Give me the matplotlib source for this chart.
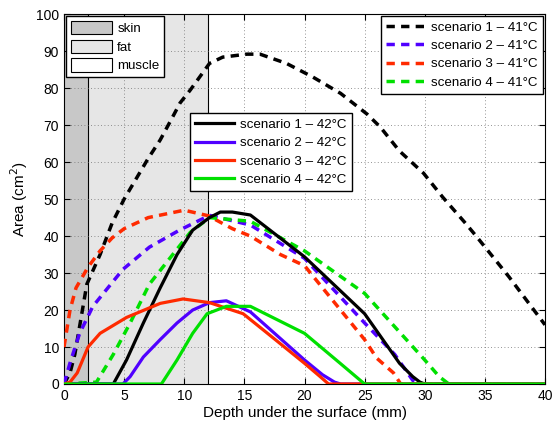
import matplotlib
matplotlib.use("Agg")
import matplotlib.pyplot as plt
from matplotlib.patches import Patch

plt.rcParams['font.family'] = ['Liberation Sans', 'DejaVu Sans']

# tissue layers (mm)
layers = ['skin', 'fat', 'muscle']
layer_edges = [0, 2, 12, 40]
layer_colors = ['#c8c8c8', '#e6e6e6', '#ffffff']

colors = ['#000000', '#5000ff', '#ff2a00', '#00e000']

# 41 degC curves (dashed)
x41_1 = [0, 0.5, 0.9, 1.9, 3, 4, 5, 7, 8, 9, 9.65, 10.5, 12.1, 13.2, 15.2, 16.3, 18.5, 20.7, 23, 25.2, 26.3, 27.9, 29.9, 31.5, 33.3, 34.2, 37, 40]
y41_1 = [0, 3, 8, 27, 35, 43.5, 50, 61, 66, 72, 76, 79.5, 86.7, 88.4, 89.2, 89.2, 86.7, 83, 78.6, 73, 69.5, 63, 57, 50.5, 43.8, 40.3, 29, 16]
x41_2 = [0, 0.5, 1.3, 2.4, 4.9, 7.1, 9.6, 12.1, 15.5, 20, 25, 27.5, 29, 29.5, 40]
y41_2 = [0, 5.7, 13.7, 21, 31, 37, 41.6, 45.6, 43, 34, 16.5, 8, 1, 0, 0]
x41_3 = [0, 0.5, 1, 2, 3, 4, 5, 7, 10, 12, 14, 15.5, 18, 20, 22, 25, 26, 27.4, 28, 40]
y41_3 = [10, 20, 26, 31.6, 36, 39.5, 42, 45, 47, 45.5, 42, 40, 35, 32, 24, 12, 7, 3, 0, 0]
x41_4 = [0, 2.7, 4.1, 5.5, 7.1, 8.8, 10.5, 12.1, 15.5, 20, 25, 30, 31.2, 32, 40]
y41_4 = [0, 0.5, 8, 16.5, 27, 34, 41, 45, 44, 36, 24.5, 6.5, 2, 0, 0]

# 42 degC curves (solid)
x42_1 = [0, 4.1, 5.2, 6.6, 8, 9.4, 10.7, 12.1, 13, 14, 15.5, 20, 25, 27.9, 29, 29.6, 30, 40]
y42_1 = [0, 0, 6.5, 16.5, 26, 35, 41.6, 45, 46.5, 46.5, 45.7, 34.4, 19, 5.6, 2, 0.5, 0, 0]
x42_2 = [0, 4.9, 5.5, 6.6, 8, 9.4, 10.7, 12.1, 13.5, 15.5, 20, 21.5, 22.5, 23, 40]
y42_2 = [0, 0, 2, 7.3, 12, 16.5, 20, 22, 22.5, 19.5, 6.5, 2.5, 0.5, 0, 0]
x42_3 = [0, 0.5, 1.1, 2, 3, 5.2, 8, 9.9, 12.1, 14.9, 17, 20, 21.3, 22, 40]
y42_3 = [0, 0.5, 3, 10, 13.7, 18, 21.8, 23, 22, 19, 13.5, 5.6, 2, 0, 0]
x42_4 = [0, 8.1, 9.4, 10.7, 11.9, 13.5, 15.5, 20, 23, 25, 40]
y42_4 = [0, 0, 6.5, 13.7, 19, 21, 21, 13.7, 5.5, 0, 0]

x41 = [x41_1, x41_2, x41_3, x41_4]
y41 = [y41_1, y41_2, y41_3, y41_4]
x42 = [x42_1, x42_2, x42_3, x42_4]
y42 = [y42_1, y42_2, y42_3, y42_4]

fig = plt.figure(figsize=(5.58, 4.26), dpi=100)
ax = fig.add_axes([0.1147, 0.0986, 0.862, 0.868])

patches = []
for i in range(3):
    ax.axvspan(layer_edges[i], layer_edges[i + 1], color=layer_colors[i], zorder=0, lw=0)
    patches.append(Patch(facecolor=layer_colors[i], edgecolor='k', lw=0.8, label=layers[i]))
for e in layer_edges[1:3]:
    ax.axvline(e, color='k', lw=0.8, zorder=1)

dashed = []
for i in range(4):
    l, = ax.plot(x41[i], y41[i], color=colors[i], lw=2.5, dashes=(2.4, 1.8),
                 label='scenario %d – 41°C' % (i + 1), zorder=3)
    dashed.append(l)
solid = []
for i in range(4):
    l, = ax.plot(x42[i], y42[i], color=colors[i], lw=2.3,
                 label='scenario %d – 42°C' % (i + 1), zorder=3)
    solid.append(l)

ax.set_xlim(0, 40)
ax.set_ylim(0, 100)
ax.set_xticks(range(0, 41, 5))
ax.set_yticks(range(0, 101, 10))
ax.grid(True, linestyle=(0, (1, 3)), color='#707070', lw=0.6)
ax.tick_params(direction='in', labelsize=10, top=True, right=True, length=4)
ax.set_xlabel('Depth under the surface (mm)', fontsize=11, labelpad=2)
ax.set_ylabel('Area (cm$^2$)', fontsize=11)
for s in ax.spines.values():
    s.set_linewidth(0.8)

kw = dict(fontsize=9.6, fancybox=False, framealpha=1, edgecolor='k',
          borderaxespad=0)
leg1 = ax.legend(handles=patches, loc='upper left', bbox_to_anchor=(0.004, 0.995),
                 handleheight=1.15, handlelength=3.1, labelspacing=0.35,
                 handletextpad=0.4, borderpad=0.35, **kw)
leg1.get_frame().set_linewidth(1)
ax.add_artist(leg1)
leg2 = ax.legend(handles=dashed, loc='upper right', bbox_to_anchor=(0.996, 0.995),
                 labelspacing=0.45, handlelength=2.9, handletextpad=0.45, **kw)
leg2.get_frame().set_linewidth(1)
ax.add_artist(leg2)
leg3 = ax.legend(handles=solid, loc='upper left', bbox_to_anchor=(0.262, 0.732),
                 labelspacing=0.45, handlelength=2.9, handletextpad=0.45, **kw)
leg3.get_frame().set_linewidth(1)

fig.savefig('out.png', dpi=100)
